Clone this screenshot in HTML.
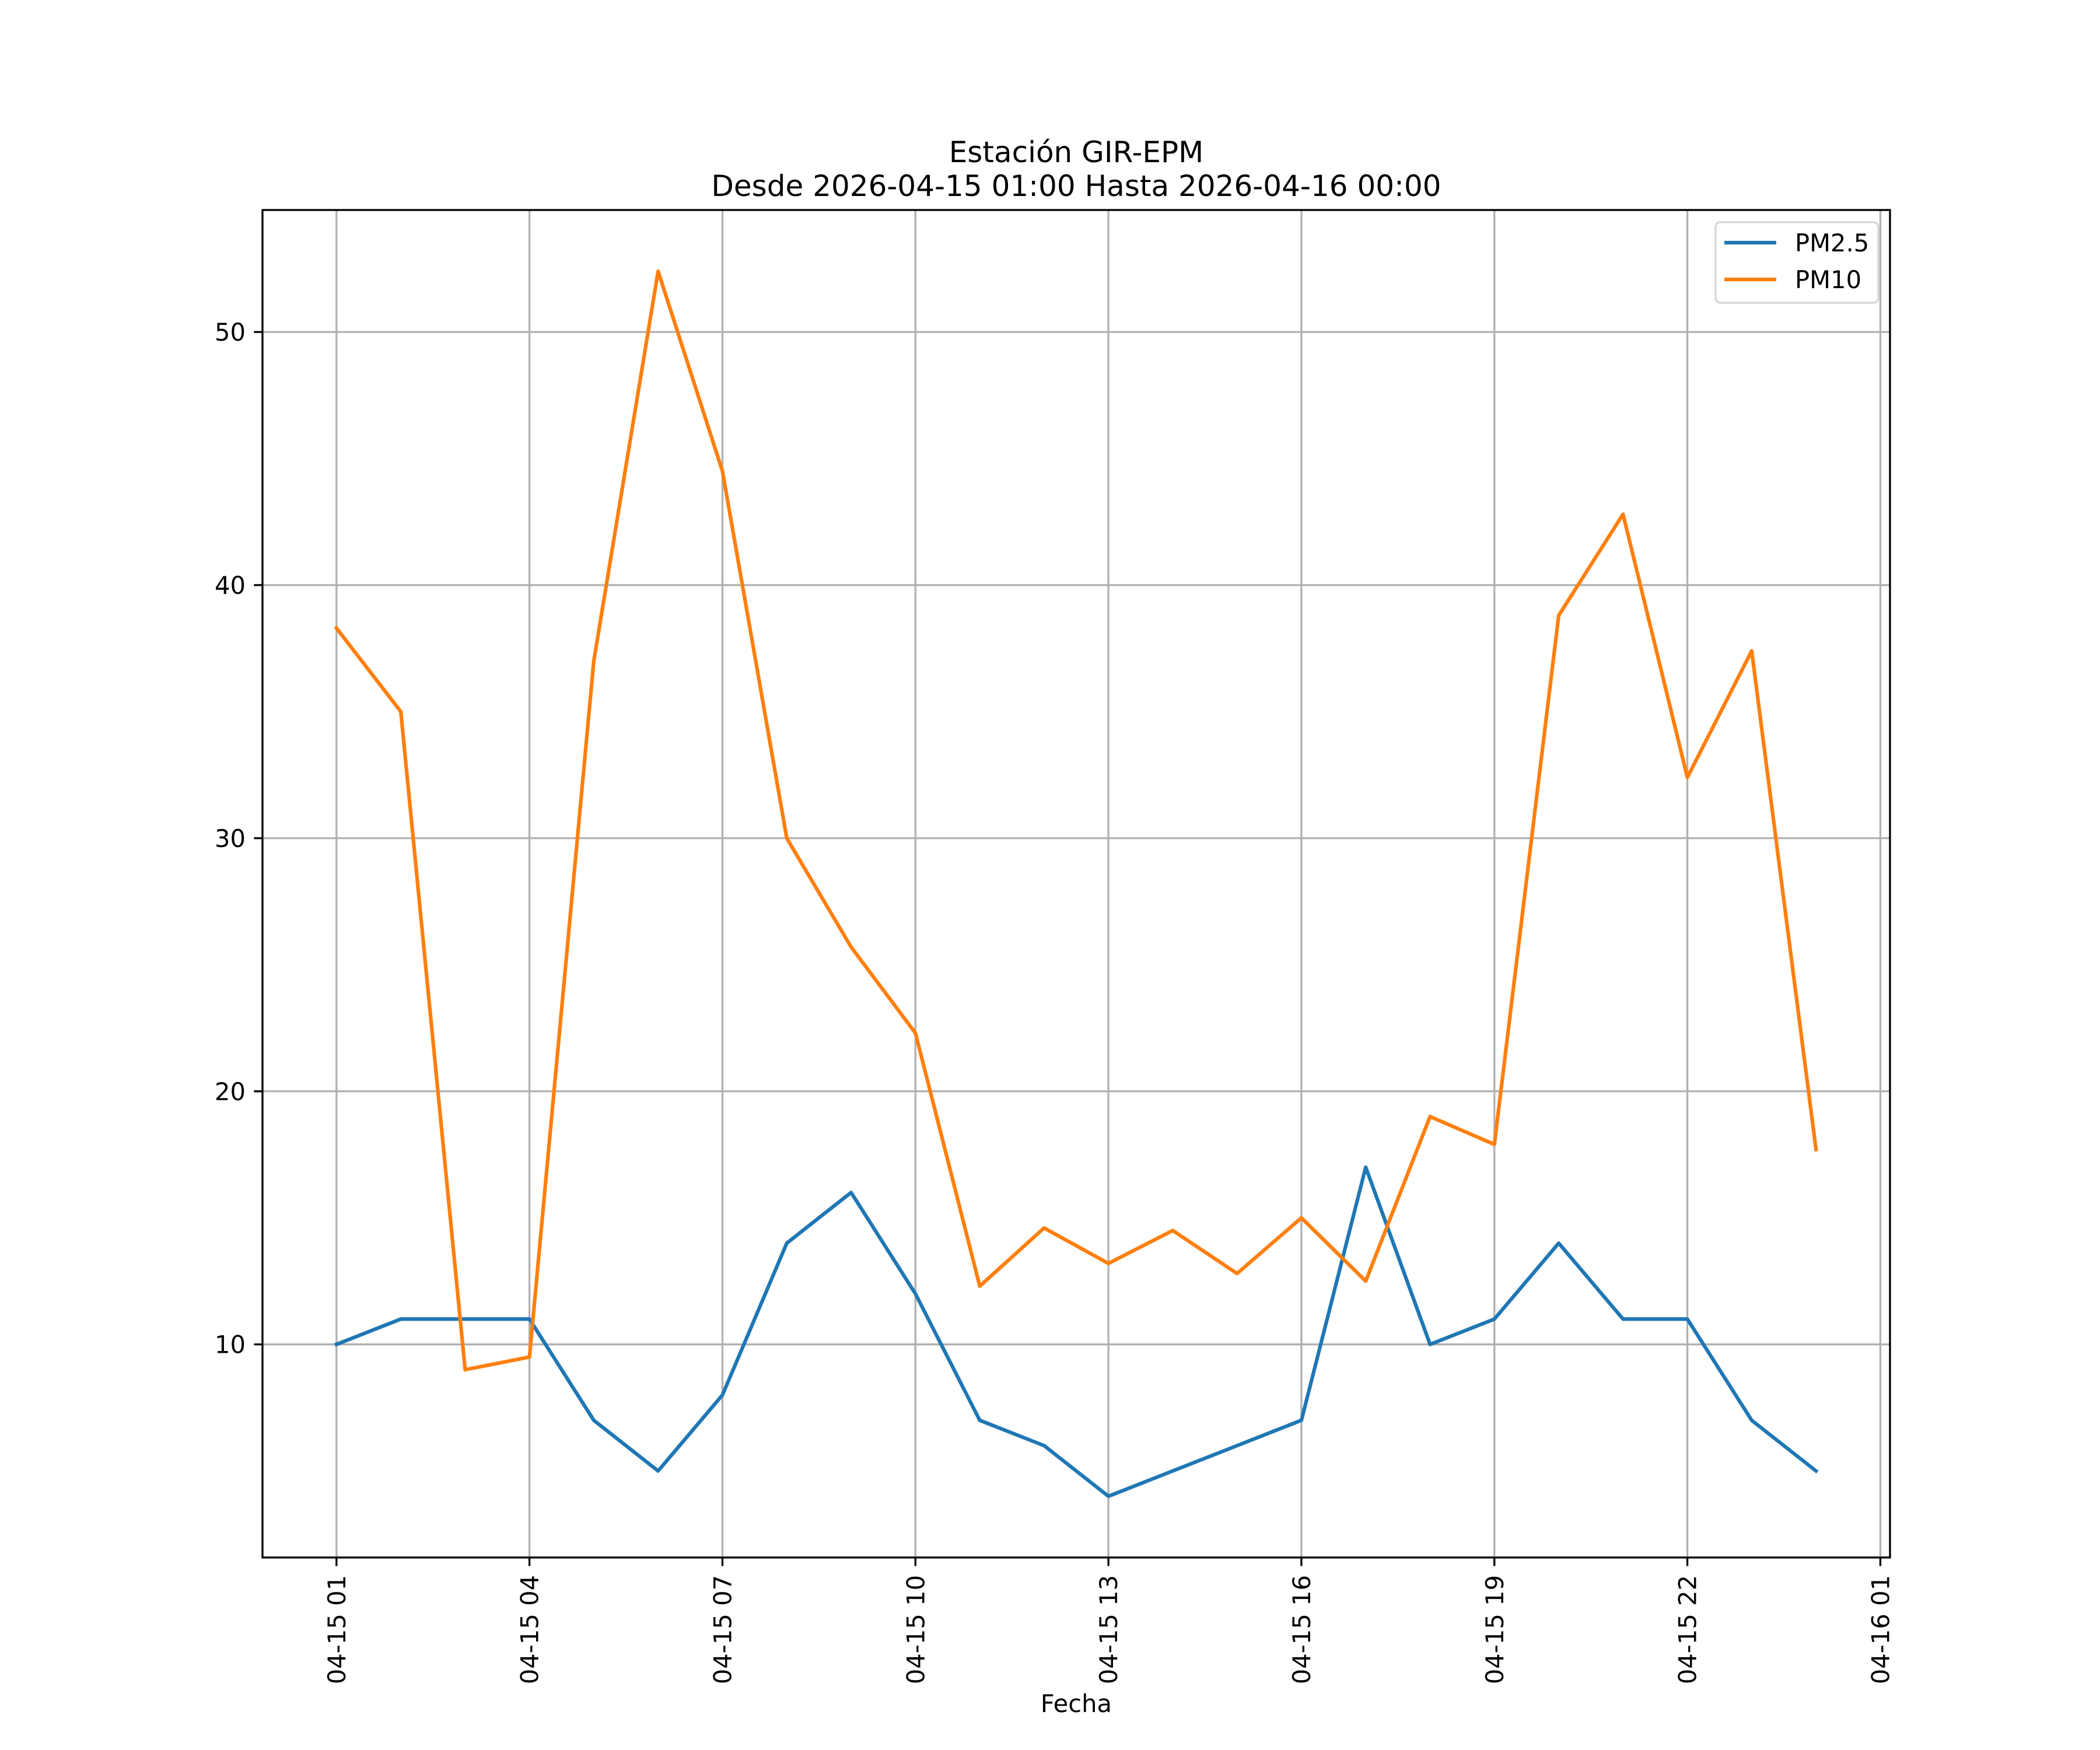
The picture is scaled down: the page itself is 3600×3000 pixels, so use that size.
<!DOCTYPE html>
<html><head><meta charset="utf-8"><style>
html,body{margin:0;padding:0;background:#fff;}
svg{display:block;font-family:"DejaVu Sans","Liberation Sans",sans-serif;}
</style></head><body>
<svg id="chart" width="3600" height="3000" viewBox="0 0 3600 3000" xmlns="http://www.w3.org/2000/svg">
<rect width="3600" height="3000" fill="#fff"/>
<text x="1845" y="278" font-size="50" text-anchor="middle">Estación GIR-EPM</text>
<text x="1845" y="336" font-size="50" text-anchor="middle">Desde 2026-04-15 01:00 Hasta 2026-04-16 00:00</text>
<g id="grid"></g>
<g id="series"></g>
<rect x="450" y="360" width="2790" height="2310" fill="none" stroke="#000" stroke-width="3.3"/>
<g id="ticks"></g>
<text x="1845" y="2935" font-size="41.67" text-anchor="middle">Fecha</text>
<g>
<rect x="2941" y="381" width="279" height="138" fill="#fff" fill-opacity="0.8" stroke="#d6d6d6" stroke-width="3.3" rx="8"/>
<line x1="2956" y1="416" x2="3045" y2="416" stroke="#1f77b4" stroke-width="6.25"/>
<text x="3077" y="431" font-size="41.67">PM2.5</text>
<line x1="2956" y1="479" x2="3045" y2="479" stroke="#ff7f0e" stroke-width="6.25"/>
<text x="3077" y="494" font-size="41.67">PM10</text>
</g>
</svg>
<script>
const hours = [1,2,3,4,5,6,7,8,9,10,11,12,13,14,15,16,17,18,19,20,21,22,23,24];
const pm25 = [10,11,11,11,7,5,8,14,16,12,7,6,4,5,6,7,17,10,11,14,11,11,7,5];
const pm10 = [38.3,35,9,9.5,37,52.4,44.5,30,25.7,22.3,12.3,14.6,13.2,14.5,12.8,15,12.5,19,17.9,38.8,42.8,32.4,37.4,17.7];
const xTicks = [1,4,7,10,13,16,19,22,25];
const xTickLabels = ["04-15 01","04-15 04","04-15 07","04-15 10","04-15 13","04-15 16","04-15 19","04-15 22","04-16 01"];
const yTicks = [10,20,30,40,50];

const L=450,R=3240,T=360,B=2670;
const xMin=-0.15,xMax=25.15,yMin=1.58,yMax=54.82;
const sx=v=>L+(v-xMin)/(xMax-xMin)*(R-L);
const sy=v=>B-(v-yMin)/(yMax-yMin)*(B-T);
const NS="http://www.w3.org/2000/svg";
function mk(tag,attrs,parent){const e=document.createElementNS(NS,tag);for(const k in attrs)e.setAttribute(k,attrs[k]);parent.appendChild(e);return e;}
const grid=document.getElementById('grid'),ticks=document.getElementById('ticks'),series=document.getElementById('series');
xTicks.forEach((h,i)=>{
  const x=sx(h);
  const g=mk('line',{x1:x,y1:T,x2:x,y2:B,stroke:'#b0b0b0','stroke-width':3.3},grid);
  
  
  mk('line',{x1:x,y1:B,x2:x,y2:B+14.6,stroke:'#000','stroke-width':3.3},ticks);
  const t=mk('text',{x:0,y:0,'font-size':41.67,'text-anchor':'end',transform:`translate(${x+15},${B+30}) rotate(-90)`},ticks);
  t.textContent=xTickLabels[i];
  
  
});
yTicks.forEach(v=>{
  const y=sy(v);
  const g=mk('line',{x1:L,y1:y,x2:R,y2:y,stroke:'#b0b0b0','stroke-width':3.3},grid);
  
  
  mk('line',{x1:L-14.6,y1:y,x2:L,y2:y,stroke:'#000','stroke-width':3.3},ticks);
  const t=mk('text',{x:L-29,y:y+15,'font-size':41.67,'text-anchor':'end'},ticks);
  t.textContent=v;
  
  
});
function line(data,color,name){
  const p=mk('polyline',{points:data.map((v,i)=>sx(hours[i])+','+sy(v)).join(' '),fill:'none',stroke:color,'stroke-width':6.25,'stroke-linejoin':'round','stroke-linecap':'square'},series);
  
  
}
line(pm25,'#1f77b4','pm25-line');
line(pm10,'#ff7f0e','pm10-line');
</script>
</body></html>
